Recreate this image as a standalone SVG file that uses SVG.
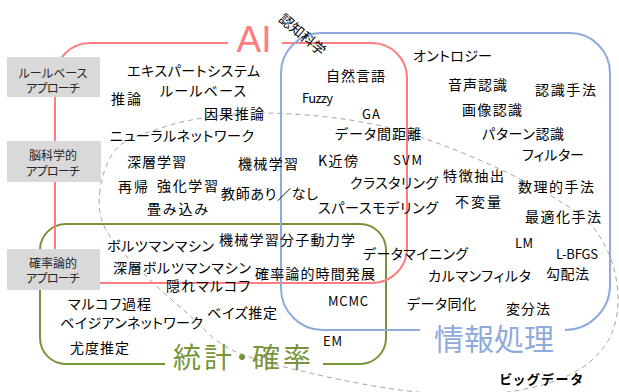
<svg xmlns="http://www.w3.org/2000/svg" width="619" height="392" viewBox="0 0 619 392">
<style>
text{font-family:"Noto Sans CJK JP","Noto Sans",sans-serif;font-feature-settings:"palt";fill:#000;}
.l{font-size:14px;dominant-baseline:central;}
.e{font-size:13px;dominant-baseline:central;}
.b{font-size:12px;dominant-baseline:central;text-anchor:middle;fill:#262626;}
.box{fill:#D9D9D9;}
.frame{fill:none;stroke-width:2;}
</style>
<rect width="619" height="392" fill="#fff"/>
<g id="bigdata">
<path d="M100,190 C98.2,203.7 98.8,216.2 106,230 C113.2,243.8 129.5,259.2 143,273 C156.5,286.8 172.2,300.2 187,313 C201.8,325.8 211.5,340 232,350 C252.5,360 282,366.3 310,373 C338,379.7 372.5,386.3 400,390 C427.5,393.7 453.3,395.3 475,395 C496.7,394.7 515,391 530,388 C545,385 554.7,381.7 565,377 C575.3,372.3 584.2,367.3 592,360 C599.8,352.7 607.7,343.8 612,333 C616.3,322.2 618.7,308.5 618,295 C617.3,281.5 614.3,265.3 608,252 C601.7,238.7 596.3,228 580,215 C563.7,202 536.2,186.8 510,174 C483.8,161.2 449.7,147 423,138 C396.3,129 376.3,124.2 350,120 C323.7,115.8 289.5,113.3 265,113 C240.5,112.7 220.8,115.3 203,118 C185.2,120.7 172.3,124 158,129 C143.7,134 126.7,137.8 117,148 C107.3,158.2 101.8,176.3 100,190 Z" fill="none" stroke="#A6A6A6" stroke-width="1" stroke-dasharray="5,4"/>
<text x="541" y="384" text-anchor="middle" style="font-size:13px;font-weight:bold" textLength="83">ビッグデータ</text>
</g>
<g id="stats">
<path class="frame" stroke="#77933C" d="M323,364 H360 A26 26 0 0 0 386 338 V250 A26 26 0 0 0 360 224 H66 A26 26 0 0 0 40 250 V338 A26 26 0 0 0 66 364 H165"/>
<text x="242" y="356" text-anchor="middle" style="font-size:28px;fill:#77933C;dominant-baseline:central" textLength="138">統計・確率</text>
</g>
<g id="ai">
<path class="frame" stroke="#FF7C80" d="M228,43 H90 A35 35 0 0 0 55 78 V248 A35 35 0 0 0 90 283 H372 A35 35 0 0 0 407 248 V78 A35 35 0 0 0 372 43 H282"/>
<text x="254" y="52" text-anchor="middle" style="font-family:'Liberation Sans',sans-serif;font-size:37px;fill:#FF7C80">AI</text>
</g>
<g id="info">
<path class="frame" stroke="#8FAADC" d="M565,330 A45 45 0 0 0 610 285 V73 A40 40 0 0 0 570 33 H321 A40 40 0 0 0 281 73 V288 A42 42 0 0 0 323 330 H420"/>
<text x="494" y="337" text-anchor="middle" style="font-size:30px;fill:#8FAADC;dominant-baseline:central" textLength="120">情報処理</text>
</g>
<g id="cogsci">
<text transform="translate(303,34) rotate(40)" text-anchor="middle" style="font-size:14px;dominant-baseline:central">認知科学</text>
</g>
<g id="approach-rule">
<rect class="box" x="7" y="57" width="93" height="40"/>
<text class="b" x="53" y="72" textLength="69">ルールベース</text>
<text class="b" x="53" y="87" textLength="54">アプローチ</text>
</g>
<g id="approach-brain">
<rect class="box" x="7" y="141" width="94" height="41"/>
<text class="b" x="53" y="154" textLength="48">脳科学的</text>
<text class="b" x="53" y="170" textLength="54">アプローチ</text>
</g>
<g id="approach-prob">
<rect class="box" x="7" y="249" width="93" height="41"/>
<text class="b" x="53" y="262" textLength="48">確率論的</text>
<text class="b" x="53" y="277" textLength="54">アプローチ</text>
</g>
<g id="labels">
<text class="l" x="127" y="70" textLength="133">エキスパートシステム</text>
<text class="l" x="160" y="90" textLength="86">ルールベース</text>
<text class="l" x="111" y="98" textLength="30">推論</text>
<text class="l" x="204" y="113" textLength="60">因果推論</text>
<text class="l" x="413" y="55" textLength="79">オントロジー</text>
<text class="l" x="326" y="75" textLength="59">自然言語</text>
<text class="l" x="448" y="84" textLength="59">音声認識</text>
<text class="l" x="535" y="89" textLength="61">認識手法</text>
<text class="e" x="302" y="97" textLength="31">Fuzzy</text>
<text class="e" x="362" y="113" textLength="18">GA</text>
<text class="l" x="462" y="109" textLength="60">画像認識</text>
<text class="l" x="110" y="135" textLength="144">ニューラルネットワーク</text>
<text class="l" x="127" y="161" textLength="59">深層学習</text>
<text class="l" x="238" y="163" textLength="60">機械学習</text>
<text class="l" x="118" y="186" textLength="30">再帰</text>
<text class="l" x="157" y="185" textLength="61">強化学習</text>
<text class="l" x="221" y="193" textLength="97">教師あり／なし</text>
<text class="l" x="147" y="208" textLength="61">畳み込み</text>
<text class="l" x="335" y="133" textLength="86">データ間距離</text>
<text class="l" x="482" y="133" textLength="82">パターン認識</text>
<text class="l" x="318" y="160" textLength="40">K近傍</text>
<text class="e" x="393" y="159" textLength="29">SVM</text>
<text class="l" x="522" y="154" textLength="62">フィルター</text>
<text class="l" x="443" y="175" textLength="61">特徴抽出</text>
<text class="l" x="350" y="182" textLength="88">クラスタリング</text>
<text class="l" x="518" y="186" textLength="76">数理的手法</text>
<text class="l" x="455" y="201" textLength="46">不変量</text>
<text class="l" x="318" y="207" textLength="120">スパースモデリング</text>
<text class="l" x="525" y="216" textLength="76">最適化手法</text>
<text class="l" x="107" y="245" textLength="107">ボルツマンマシン</text>
<text class="l" x="219" y="239" textLength="136">機械学習分子動力学</text>
<text class="l" x="113" y="267" textLength="138">深層ボルツマンマシン</text>
<text class="l" x="255" y="273" textLength="120">確率論的時間発展</text>
<text class="l" x="166" y="285" textLength="84">隠れマルコフ</text>
<text class="l" x="68" y="303" textLength="83">マルコフ過程</text>
<text class="l" x="207" y="312" textLength="70">ベイズ推定</text>
<text class="l" x="60" y="322" textLength="143">ベイジアンネットワーク</text>
<text class="l" x="70" y="347" textLength="59">尤度推定</text>
<text class="l" x="363" y="253" textLength="105">データマイニング</text>
<text class="e" x="515" y="242" textLength="18">LM</text>
<text class="e" x="556" y="253" textLength="42">L-BFGS</text>
<text class="l" x="428" y="275" textLength="103">カルマンフィルタ</text>
<text class="l" x="546" y="273" textLength="43">勾配法</text>
<text class="e" x="328" y="300" textLength="40">MCMC</text>
<text class="l" x="407" y="303" textLength="69">データ同化</text>
<text class="l" x="506" y="308" textLength="44">変分法</text>
<text class="e" x="323" y="340" textLength="19">EM</text>
</g>
</svg>
